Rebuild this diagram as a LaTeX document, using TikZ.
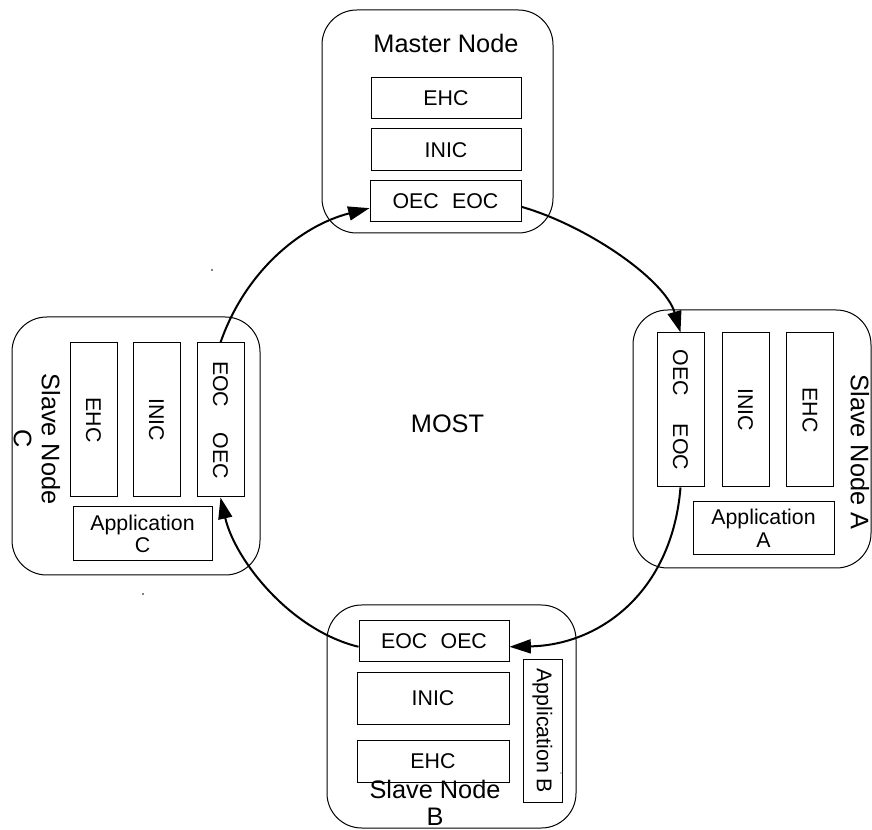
\documentclass[tikz,border=0pt]{standalone}
\usepackage{fontspec}
\usepackage{graphicx}
\setmainfont{Liberation Sans}
\usetikzlibrary{arrows.meta}

\tikzset{every picture/.style={line width=0.75pt}}
\tikzset{
  unit/.style={draw, rounded corners=26pt},
  hbox/.style={draw, inner sep=0pt, minimum width=112.5pt, minimum height=30.75pt, font=\fontsize{16}{18}\selectfont},
  vbox/.style={draw, inner sep=0pt, minimum width=35.25pt, minimum height=115.5pt, font=\fontsize{16}{18}\selectfont},
  title/.style={inner sep=0.75pt, align=center, font=\fontsize{19}{22}\selectfont},
  ring/.style={line width=1.5pt, -{Triangle[length=16pt,width=10.5pt]}},
}
\newcommand{\vtext}[1]{\rotatebox[origin=c]{-90}{#1}}

\begin{document}
\begin{tikzpicture}[x=0.75pt,y=0.75pt,yscale=-1,xscale=1]
\useasboundingbox (0,0) rectangle (872,830);

%Shape: Rounded Rect (master)
\draw [unit] (322,10) rectangle (553,233);
%Shape: Rounded Rect (slave A)
\draw [unit] (633,310) rectangle (871,568);
%Shape: Rounded Rect (slave B)
\draw [unit] (327,605) rectangle (576,828);
%Shape: Rounded Rect (slave C)
\draw [unit] (12,317) rectangle (260,575);

% Master Node
\draw (446,53) node [title, anchor=base] (mTitle) {Master Node};
\draw (446,98.5) node [hbox] (mEHC) {EHC};
\draw (446,150) node [hbox, minimum height=31.5pt] (mINIC) {INIC};
\draw (445.5,201.5) node [hbox, minimum width=113.25pt] (mOE) {OEC\hspace{10pt}EOC};

% Slave Node A
\draw (680.5,410) node [vbox] (aOE) {\vtext{OEC\hspace{21pt}EOC}};
\draw (745.5,410) node [vbox] (aINIC) {\vtext{INIC}};
\draw (810,410) node [vbox] (aEHC) {\vtext{EHC}};
\draw (763.5,528.5) node [hbox, align=center, minimum width=105.75pt, minimum height=39.75pt] (aApp) {Application\\[-1pt]A};
\draw (860,452) node [title, rotate=-90] (aTitle) {Slave Node A};

% Slave Node B
\draw (434,641.5) node [hbox] (bEO) {EOC\hspace{10pt}OEC};
\draw (433,698.5) node [hbox, minimum width=114pt, minimum height=38.25pt] (bINIC) {INIC};
\draw (433,761) node [hbox, minimum width=114pt, minimum height=31.5pt] (bEHC) {EHC};
\draw (542.5,731) node [vbox, minimum width=29.25pt, minimum height=106.5pt] (bApp) {\vtext{Application B}};
\draw (435,803) node [title] (bTitle) {Slave Node\\[-2pt]B};

% Slave Node C
\draw (93.5,420) node [vbox] (cEHC) {\vtext{EHC}};
\draw (156.5,420) node [vbox] (cINIC) {\vtext{INIC}};
\draw (220.5,420) node [vbox] (cEO) {\vtext{EOC\hspace{19pt}OEC}};
\draw (142.5,534) node [hbox, align=center, minimum width=104.25pt, minimum height=40.5pt] (cApp) {Application\\[-1pt]C};
\draw (37,439) node [title, rotate=-90] (cTitle) {Slave Node\\[-1pt]C};

% Text Node
\draw (447.5,424) node [title] (most) {MOST};

%Curve Lines (ring)
\draw [ring] (cEO.north) .. controls (245,272) and (300,226) .. (mOE.185);
\draw [ring] (mOE.356) .. controls (588,226) and (665,280) .. (aOE.north);
\draw [ring] (aOE.south) .. controls (672,592) and (600,645) .. (bEO.356);
\draw [ring] (bEO.184) .. controls (290,630) and (235,560) .. (cEO.south);

%Dots
\fill (212,270) circle (0.9);
\fill (143,594) circle (0.9);
\fill (561,773) circle (0.7);

\end{tikzpicture}
\end{document}
